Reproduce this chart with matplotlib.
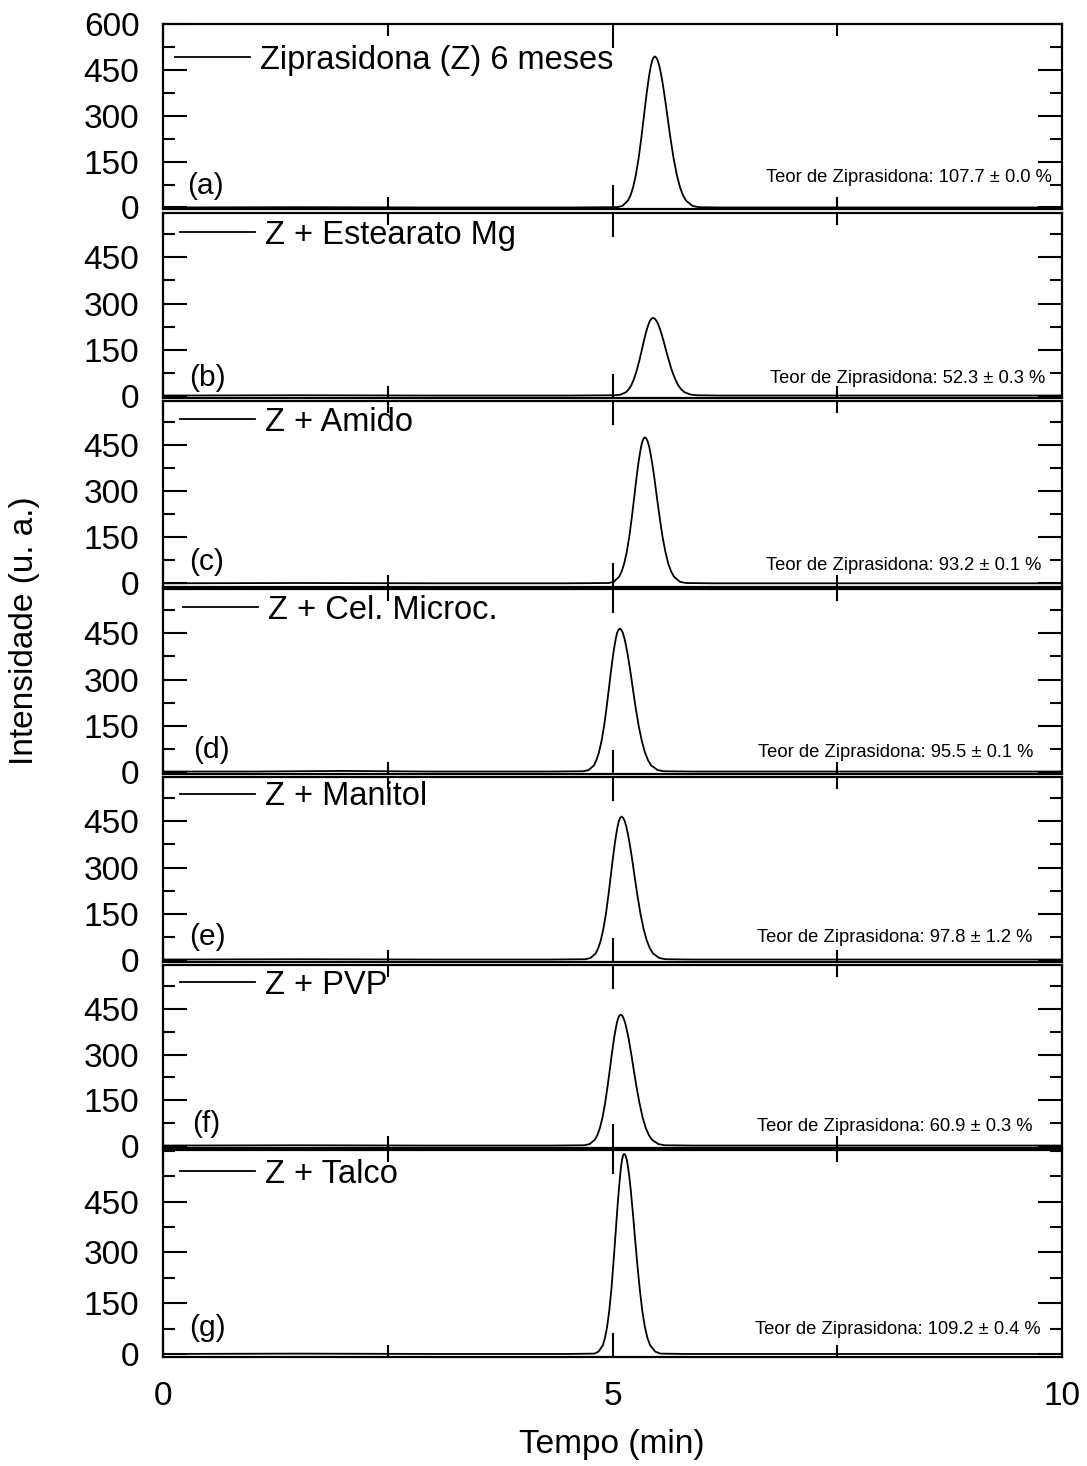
import matplotlib
matplotlib.use("Agg")
import matplotlib.pyplot as plt
from matplotlib.ticker import MultipleLocator, FixedLocator

plt.rcParams['font.family'] = ['Liberation Sans', 'DejaVu Sans']

# Chromatogram samples (retention time in min, intensity in a.u.)
a_time = [0.0, 1.5, 3.0, 4.5,
          5.05, 5.11, 5.17, 5.20, 5.23, 5.26, 5.29, 5.32, 5.35, 5.365, 5.38, 5.395, 5.41, 5.425, 5.44, 5.455, 5.47,
          5.488, 5.505, 5.523, 5.54, 5.558, 5.575, 5.593, 5.61, 5.645, 5.68, 5.715, 5.75, 5.785, 5.82, 5.89, 5.96,
          6.2, 7.5, 10.0]
a_int = [0, 1, 0, 0,
         1, 5, 22, 39, 67, 107, 160, 226, 300, 337, 373, 406, 436, 460, 479, 490, 494,
         490, 479, 460, 436, 406, 373, 337, 300, 226, 160, 107, 67, 39, 22, 5, 1,
         0, 0, 0]

b_time = [0.0, 1.5, 3.0, 4.5,
          5.03, 5.09, 5.15, 5.18, 5.21, 5.24, 5.27, 5.30, 5.33, 5.345, 5.36, 5.375, 5.39, 5.405, 5.42, 5.435, 5.45,
          5.468, 5.485, 5.503, 5.52, 5.538, 5.555, 5.573, 5.59, 5.625, 5.66, 5.695, 5.73, 5.765, 5.80, 5.87, 5.94,
          6.2, 7.5, 10.0]
b_int = [0, 1, 0, 0,
         1, 3, 11, 20, 34, 55, 82, 116, 153, 173, 191, 208, 223, 236, 245, 251, 253,
         251, 245, 236, 223, 208, 191, 173, 153, 116, 82, 55, 34, 20, 11, 3, 1,
         0, 0, 0]

c_time = [0.0, 1.5, 3.0, 4.5,
          4.958, 5.015, 5.073, 5.101, 5.13, 5.159, 5.188, 5.216, 5.245, 5.259, 5.274, 5.288, 5.303, 5.317, 5.331, 5.346, 5.36,
          5.376, 5.393, 5.409, 5.425, 5.441, 5.458, 5.474, 5.49, 5.523, 5.555, 5.588, 5.62, 5.653, 5.685, 5.75, 5.815,
          6.1, 7.5, 10.0]
c_int = [0, 1, 0, 0,
         1, 5, 21, 38, 64, 103, 154, 217, 288, 324, 359, 391, 419, 443, 460, 471, 475,
         471, 460, 443, 419, 391, 359, 324, 288, 217, 154, 103, 64, 38, 21, 5, 1,
         0, 0, 0]

d_time = [0.0, 1.0, 2.0, 3.0, 4.3,
          4.678, 4.735, 4.793, 4.821, 4.85, 4.879, 4.908, 4.936, 4.965, 4.979, 4.994, 5.008, 5.023, 5.037, 5.051, 5.066, 5.08,
          5.098, 5.115, 5.133, 5.15, 5.168, 5.185, 5.203, 5.22, 5.255, 5.29, 5.325, 5.36, 5.395, 5.43, 5.50, 5.57,
          5.9, 7.5, 10.0]
d_int = [0, 0, 2, 0, 0,
         1, 5, 20, 37, 63, 101, 151, 213, 283, 318, 352, 383, 411, 434, 452, 462, 466,
         462, 452, 434, 411, 383, 352, 318, 283, 213, 151, 101, 63, 37, 20, 5, 1,
         0, 0, 0]

e_time = [0.0, 1.5, 3.0, 4.3,
          4.698, 4.755, 4.813, 4.841, 4.87, 4.899, 4.928, 4.956, 4.985, 4.999, 5.014, 5.028, 5.043, 5.057, 5.071, 5.086, 5.10,
          5.118, 5.135, 5.153, 5.17, 5.188, 5.205, 5.223, 5.24, 5.275, 5.31, 5.345, 5.38, 5.415, 5.45, 5.52, 5.59,
          5.9, 7.5, 10.0]
e_int = [0, 1, 0, 0,
         1, 5, 20, 37, 63, 101, 151, 213, 283, 318, 352, 383, 411, 434, 452, 462, 466,
         462, 452, 434, 411, 383, 352, 318, 283, 213, 151, 101, 63, 37, 20, 5, 1,
         0, 0, 0]

f_time = [0.0, 1.5, 3.0, 4.3,
          4.688, 4.745, 4.803, 4.831, 4.86, 4.889, 4.918, 4.946, 4.975, 4.989, 5.004, 5.018, 5.033, 5.047, 5.061, 5.076, 5.09,
          5.108, 5.125, 5.143, 5.16, 5.178, 5.195, 5.213, 5.23, 5.265, 5.30, 5.335, 5.37, 5.405, 5.44, 5.51, 5.58,
          5.9, 7.5, 10.0]
f_int = [0, 1, 0, 0,
         1, 5, 19, 34, 58, 93, 140, 197, 261, 294, 325, 355, 380, 402, 418, 428, 431,
         428, 418, 402, 380, 355, 325, 294, 261, 197, 140, 93, 58, 34, 19, 5, 1,
         0, 0, 0]

g_time = [0.0, 1.5, 3.0, 4.5,
          4.798, 4.845, 4.893, 4.916, 4.94, 4.964, 4.988, 5.011, 5.035, 5.047, 5.059, 5.071, 5.083, 5.094, 5.106, 5.118, 5.13,
          5.144, 5.159, 5.173, 5.188, 5.202, 5.216, 5.231, 5.245, 5.274, 5.303, 5.331, 5.36, 5.389, 5.418, 5.475, 5.533,
          5.8, 7.5, 10.0]
g_int = [0, 1, 0, 0,
         1, 7, 26, 47, 80, 128, 192, 271, 359, 404, 447, 487, 522, 552, 574, 587, 592,
         587, 574, 552, 522, 487, 447, 404, 359, 271, 192, 128, 80, 47, 26, 7, 1,
         0, 0, 0]

samples = ['Ziprasidona (Z) 6 meses', 'Z + Estearato Mg', 'Z + Amido', 'Z + Cel. Microc.',
           'Z + Manitol', 'Z + PVP', 'Z + Talco']
panel_tags = ['(a)', '(b)', '(c)', '(d)', '(e)', '(f)', '(g)']
teor_mean = [107.7, 52.3, 93.2, 95.5, 97.8, 60.9, 109.2]
teor_sd = [0.0, 0.3, 0.1, 0.1, 1.2, 0.3, 0.4]

times = [a_time, b_time, c_time, d_time, e_time, f_time, g_time]
intens = [a_int, b_int, c_int, d_int, e_int, f_int, g_int]

# Layout: pixel rows (top, bottom) of each stacked panel
W, H = 1087, 1466
panel_px = [(24, 209), (213, 398), (401, 587), (589, 774), (777, 962), (965, 1148), (1150, 1357)]
ylims = [(-5, 600), (-8, 595), (-12, 593), (-8, 595), (-8, 595), (-8, 595), (-9, 603)]
left_px, right_px = 163, 1062

# label placement in axes fraction
leg_pos = [(0.013, 0.805), (0.019, 0.881), (0.019, 0.887), (0.022, 0.886),
           (0.019, 0.892), (0.019, 0.89), (0.019, 0.884)]
tag_pos = [(0.027, 0.124), (0.029, 0.108), (0.029, 0.134), (0.034, 0.13),
           (0.029, 0.135), (0.032, 0.131), (0.029, 0.14)]
teor_pos = [(0.989, 0.168), (0.981, 0.108), (0.977, 0.118), (0.968, 0.114),
            (0.967, 0.135), (0.967, 0.115), (0.976, 0.135)]

fig = plt.figure(figsize=(W / 100, H / 100), dpi=100)
fs = 24

for i in range(7):
    top, bot = panel_px[i]
    ax = fig.add_axes([left_px / W, 1 - bot / H, (right_px - left_px) / W, (bot - top) / H])
    ax.plot(times[i], intens[i], color='black', lw=1.3, label=samples[i],
            solid_joinstyle='round')
    ax.set_xlim(0, 10)
    ax.set_ylim(*ylims[i])
    ax.xaxis.set_major_locator(FixedLocator([0, 5, 10]))
    ax.xaxis.set_minor_locator(FixedLocator([2.5, 7.5]))
    yt = [0, 150, 300, 450, 600] if i == 0 else [0, 150, 300, 450]
    ax.yaxis.set_major_locator(FixedLocator(yt))
    ax.yaxis.set_minor_locator(MultipleLocator(75))
    ax.tick_params(which='both', direction='in', top=True, right=True, width=1.5,
                   labelsize=fs, pad=17)
    ax.tick_params(which='major', length=17)
    ax.tick_params(which='minor', length=8.5)
    if i < 6:
        ax.tick_params(axis='x', labelbottom=False)
    for sp in ax.spines.values():
        sp.set_linewidth(1.6)
    ax.legend(loc='center left', bbox_to_anchor=leg_pos[i], frameon=False, fontsize=23.5,
              handlelength=2.3, handletextpad=0.3, borderpad=0, borderaxespad=0)
    ax.text(tag_pos[i][0], tag_pos[i][1], panel_tags[i], transform=ax.transAxes,
            fontsize=21.5, ha='left', va='center')
    ax.text(teor_pos[i][0], teor_pos[i][1],
            f'Teor de Ziprasidona: {teor_mean[i]:.1f} \u00b1 {teor_sd[i]:.1f} %',
            transform=ax.transAxes, fontsize=13.2, ha='right', va='center')

fig.text(25 / W, 1 - 631 / H, 'Intensidade (u. a.)', rotation=90, fontsize=fs,
         ha='center', va='center')
fig.text(612 / W, 1 - 1444 / H, 'Tempo (min)', fontsize=fs, ha='center', va='center')

fig.savefig('out.png', dpi=100)
